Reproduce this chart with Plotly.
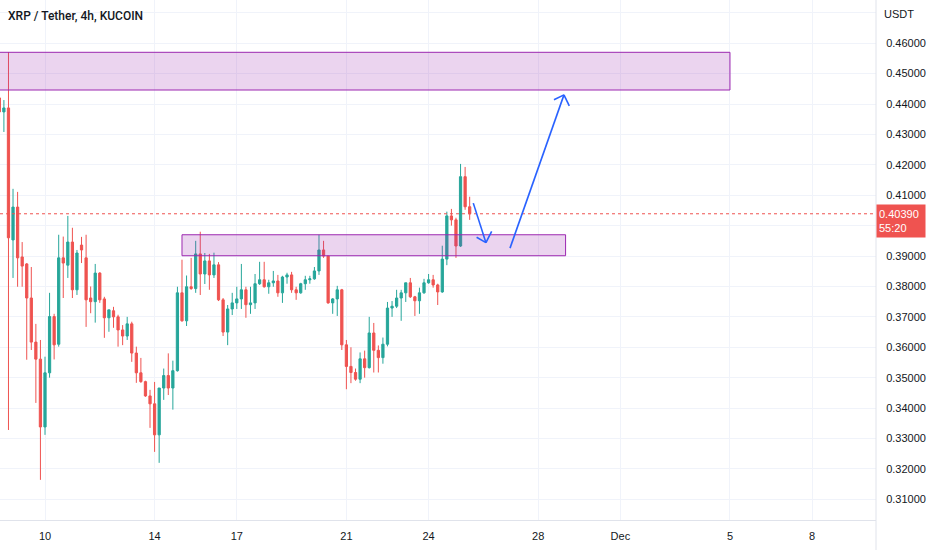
import pandas as pd
import plotly.graph_objects as go

# XRP/USDT 4h candles (first bar Nov 8 08:00)
opens = [
    0.4420, 0.4374, 0.4387, 0.3953, 0.4061, 0.3897, 0.3874, 0.3762, 0.3617, 0.3561,
    0.3338, 0.3516, 0.3701, 0.3610, 0.3894, 0.3870, 0.3946, 0.3789, 0.3936, 0.3894,
    0.3762, 0.3750, 0.3844, 0.3759, 0.3697, 0.3720, 0.3700, 0.3657, 0.3637, 0.3677,
    0.3581, 0.3516, 0.3487, 0.3440, 0.3414, 0.3312, 0.3466, 0.3507, 0.3466, 0.3523,
    0.3779, 0.3687, 0.3799, 0.3793, 0.3907, 0.3841, 0.3884, 0.3838, 0.3871, 0.3756,
    0.3650, 0.3726, 0.3746, 0.3759, 0.3789, 0.3740, 0.3746, 0.3809, 0.3822, 0.3799,
    0.3812, 0.3818, 0.3779, 0.3831, 0.3838, 0.3789, 0.3779, 0.3809, 0.3822, 0.3825,
    0.3851, 0.3920, 0.3900, 0.3746, 0.3759, 0.3789, 0.3608, 0.3537, 0.3517, 0.3495,
    0.3562, 0.3533, 0.3647, 0.3590, 0.3566, 0.3610, 0.3729, 0.3735, 0.3762, 0.3779,
    0.3812, 0.3766, 0.3753, 0.3779, 0.3812, 0.3822, 0.3805, 0.3782, 0.3890, 0.4032,
    0.4019, 0.3933, 0.4161, 0.4062,
]
highs = [
    0.4430, 0.4413, 0.4571, 0.4121, 0.4111, 0.3946, 0.3877, 0.3864, 0.3677, 0.3624,
    0.3569, 0.3779, 0.3710, 0.3970, 0.3964, 0.4032, 0.3993, 0.3920, 0.3963, 0.3970,
    0.3800, 0.3874, 0.3847, 0.3766, 0.3723, 0.3733, 0.3707, 0.3673, 0.3700, 0.3684,
    0.3602, 0.3565, 0.3490, 0.3460, 0.3486, 0.3466, 0.3530, 0.3580, 0.3556, 0.3799,
    0.3888, 0.3836, 0.3894, 0.3950, 0.3980, 0.3910, 0.3907, 0.3911, 0.3880, 0.3762,
    0.3739, 0.3779, 0.3799, 0.3874, 0.3799, 0.3799, 0.3841, 0.3881, 0.3881, 0.3822,
    0.3851, 0.3838, 0.3835, 0.3845, 0.3848, 0.3799, 0.3812, 0.3835, 0.3835, 0.3864,
    0.3970, 0.3950, 0.3900, 0.3762, 0.3802, 0.3792, 0.3624, 0.3600, 0.3530, 0.3583,
    0.3589, 0.3700, 0.3680, 0.3606, 0.3632, 0.3749, 0.3752, 0.3789, 0.3789, 0.3812,
    0.3828, 0.3769, 0.3796, 0.3825, 0.3841, 0.3838, 0.3809, 0.3934, 0.4046, 0.4055,
    0.4026, 0.4203, 0.4193, 0.4095,
]
lows = [
    0.4370, 0.4308, 0.3328, 0.3828, 0.3799, 0.3799, 0.3559, 0.3591, 0.3417, 0.3164,
    0.3312, 0.3500, 0.3560, 0.3602, 0.3762, 0.3828, 0.3762, 0.3772, 0.3877, 0.3667,
    0.3712, 0.3681, 0.3746, 0.3631, 0.3651, 0.3664, 0.3602, 0.3607, 0.3624, 0.3552,
    0.3483, 0.3483, 0.3437, 0.3335, 0.3256, 0.3220, 0.3427, 0.3443, 0.3395, 0.3520,
    0.3684, 0.3670, 0.3789, 0.3779, 0.3772, 0.3808, 0.3789, 0.3828, 0.3752, 0.3637,
    0.3607, 0.3706, 0.3726, 0.3726, 0.3697, 0.3710, 0.3726, 0.3805, 0.3796, 0.3776,
    0.3799, 0.3766, 0.3746, 0.3809, 0.3779, 0.3756, 0.3776, 0.3789, 0.3809, 0.3822,
    0.3838, 0.3894, 0.3743, 0.3710, 0.3703, 0.3591, 0.3462, 0.3482, 0.3490, 0.3482,
    0.3500, 0.3530, 0.3517, 0.3517, 0.3546, 0.3603, 0.3700, 0.3729, 0.3687, 0.3749,
    0.3762, 0.3703, 0.3710, 0.3776, 0.3809, 0.3796, 0.3739, 0.3779, 0.3870, 0.4000,
    0.3894, 0.3930, 0.4052, 0.4019,
]
closes = [
    0.4374, 0.4387, 0.3960, 0.4061, 0.3894, 0.3867, 0.3762, 0.3617, 0.3561, 0.3338,
    0.3516, 0.3701, 0.3608, 0.3894, 0.3877, 0.3946, 0.3789, 0.3910, 0.3920, 0.3756,
    0.3750, 0.3844, 0.3756, 0.3697, 0.3723, 0.3700, 0.3657, 0.3637, 0.3677, 0.3581,
    0.3516, 0.3487, 0.3440, 0.3414, 0.3312, 0.3466, 0.3507, 0.3466, 0.3523, 0.3779,
    0.3687, 0.3799, 0.3793, 0.3907, 0.3841, 0.3884, 0.3838, 0.3871, 0.3756, 0.3650,
    0.3726, 0.3746, 0.3759, 0.3789, 0.3740, 0.3746, 0.3809, 0.3822, 0.3799, 0.3812,
    0.3818, 0.3779, 0.3831, 0.3838, 0.3789, 0.3779, 0.3809, 0.3822, 0.3825, 0.3851,
    0.3920, 0.3900, 0.3746, 0.3759, 0.3789, 0.3608, 0.3537, 0.3517, 0.3495, 0.3562,
    0.3533, 0.3647, 0.3590, 0.3566, 0.3610, 0.3729, 0.3735, 0.3762, 0.3779, 0.3812,
    0.3766, 0.3753, 0.3779, 0.3812, 0.3822, 0.3805, 0.3782, 0.3890, 0.4032, 0.4019,
    0.3933, 0.4161, 0.4062, 0.4039,
]
times = pd.date_range("2022-11-08 08:00", periods=len(opens), freq="4h")

x_tick_dates = ["2022-11-10", "2022-11-14", "2022-11-17", "2022-11-21", "2022-11-24",
                "2022-11-28", "2022-12-01", "2022-12-05", "2022-12-08"]
x_tick_labels = ["10", "14", "17", "21", "24", "28", "Dec", "5", "8"]
y_tick_vals = [0.31, 0.32, 0.33, 0.34, 0.35, 0.36, 0.37, 0.38, 0.39, 0.40,
               0.41, 0.42, 0.43, 0.44, 0.45, 0.46, 0.47]
y_tick_labels = ["0.31000", "0.32000", "0.33000", "0.34000", "0.35000", "0.36000",
                 "0.37000", "0.38000", "0.39000", "", "0.41000", "0.42000",
                 "0.43000", "0.44000", "0.45000", "0.46000", ""]

last_price = 0.4039
UP = "#26a69a"
DOWN = "#ef5350"
GRID = "#f0f3fa"
BORDER = "#e0e3eb"
TXT = "#131722"
BLUE = "#2962ff"
FONT = "Liberation Sans"

fig = go.Figure()
fig.add_trace(go.Candlestick(
    x=times, open=opens, high=highs, low=lows, close=closes,
    increasing=dict(line=dict(color=UP, width=1), fillcolor=UP),
    decreasing=dict(line=dict(color=DOWN, width=1), fillcolor=DOWN),
    whiskerwidth=0,
    showlegend=False,
    hoverinfo="skip",
))

# zones
box_style = dict(type="rect", xref="x", yref="y", layer="above",
                 fillcolor="rgba(156,39,176,0.2)", line=dict(color="#9c27b0", width=1))
fig.add_shape(x0="2022-11-01", x1="2022-12-05", y0=0.4446, y1=0.4570, **box_style)
fig.add_shape(x0="2022-11-15", x1="2022-11-29", y0=0.3901, y1=0.3970, **box_style)

# last price dotted line
fig.add_shape(type="line", xref="paper", x0=0, x1=1, yref="y", y0=last_price, y1=last_price,
              line=dict(color=DOWN, width=1, dash="dot"))


def add_arrow(tail, tip, wing1, wing2):
    for a, b in [(tail, tip), (wing1, tip), (wing2, tip)]:
        fig.add_shape(type="line", xref="x", yref="y", x0=a[0], y0=a[1], x1=b[0], y1=b[1],
                      line=dict(color=BLUE, width=1.6))


add_arrow(("2022-11-25 15:10", 0.4074), ("2022-11-26 02:15", 0.3944),
          ("2022-11-25 18:05", 0.3962), ("2022-11-26 07:15", 0.3981))
add_arrow(("2022-11-26 23:20", 0.3926), ("2022-11-28 22:35", 0.4430),
          ("2022-11-28 13:50", 0.4414), ("2022-11-29 03:15", 0.4394))

# price-axis separator running into the time-axis strip
fig.add_shape(type="line", xref="paper", yref="paper", x0=1, x1=1, y0=-0.06, y1=1,
              line=dict(color=BORDER, width=1))

fig.add_annotation(xref="paper", yref="paper", x=0, y=1, xanchor="left", yanchor="top",
                   xshift=6, yshift=-7, showarrow=False,
                   text="XRP / Tether, 4h, KUCOIN",
                   font=dict(family="Roboto", size=12, color=TXT, weight=500))
fig.add_annotation(xref="paper", yref="paper", x=1, y=1, xanchor="left", yanchor="top",
                   xshift=6, yshift=-6, showarrow=False, text="USDT",
                   font=dict(family=FONT, size=11, color=TXT))
fig.add_annotation(xref="paper", yref="y", x=1, y=last_price, xanchor="left", yanchor="top",
                   yshift=10, showarrow=False, text=f"{last_price:.5f}<br>55:20",
                   align="left", width=44, height=28, borderpad=2,
                   bgcolor=DOWN, font=dict(family=FONT, size=11, color="white"))

fig.update_layout(
    width=932, height=550,
    margin=dict(l=0, r=56, t=0, b=30),
    paper_bgcolor="white", plot_bgcolor="white",
    font=dict(family=FONT, size=11, color=TXT),
    xaxis=dict(
        type="date",
        range=["2022-11-08 08:35", "2022-12-10 07:55"],
        rangeslider=dict(visible=False),
        tickvals=x_tick_dates, ticktext=x_tick_labels,
        showgrid=True, gridcolor=GRID, gridwidth=1,
        showline=True, linecolor=BORDER, linewidth=1,
        ticks="outside", ticklen=6, tickcolor="rgba(0,0,0,0)",
        zeroline=False,
    ),
    yaxis=dict(
        side="right",
        range=[0.3032, 0.4742],
        tickvals=y_tick_vals, ticktext=y_tick_labels,
        showgrid=True, gridcolor=GRID, gridwidth=1,
        showline=False,
        ticks="outside", ticklen=7, tickcolor="rgba(0,0,0,0)",
        zeroline=False,
    ),
    hovermode=False,
)

fig.write_html("out.html", config={"displayModeBar": False},
               post_script="document.body.style.margin='0';")
